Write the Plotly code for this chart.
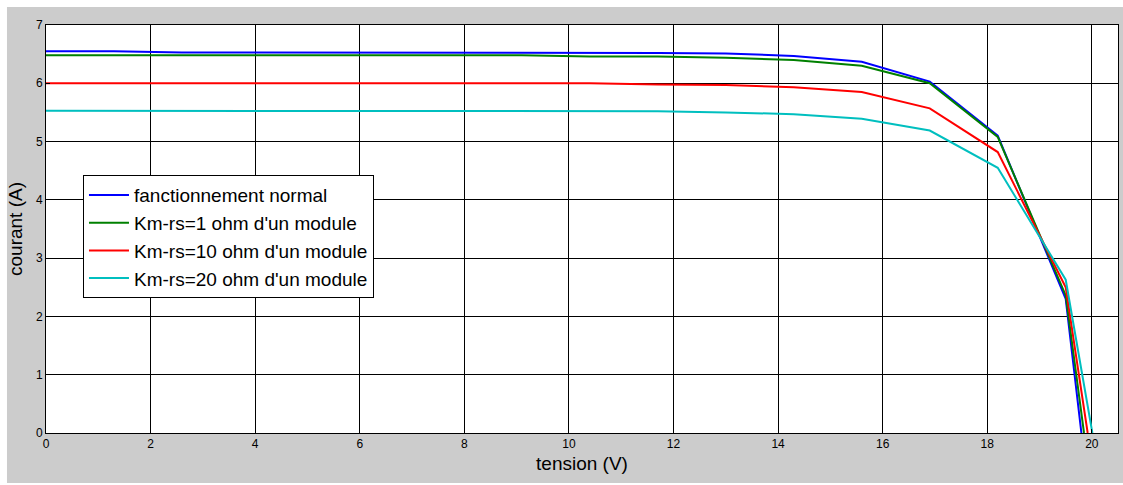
import plotly.graph_objects as go

# data
v_grid = [0, 1.3, 2.6, 3.9, 5.2, 6.5, 7.8, 9.1, 10.4, 11.7, 13.0, 14.3, 15.6, 16.9, 18.2, 19.5]

names = ["fanctionnement normal",
         "Km-rs=1 ohm d'un module",
         "Km-rs=10 ohm d'un module",
         "Km-rs=20 ohm d'un module"]

i_normal = [6.55, 6.55, 6.53, 6.53, 6.53, 6.53, 6.53, 6.53, 6.52, 6.52, 6.51, 6.47, 6.37, 6.03, 5.10, 2.30, 0.0]
i_rs1 = [6.48, 6.48, 6.48, 6.48, 6.48, 6.48, 6.48, 6.48, 6.46, 6.46, 6.44, 6.40, 6.30, 6.00, 5.08, 2.36, 0.0]
i_rs10 = [6.00, 6.00, 6.00, 6.00, 6.00, 6.00, 6.00, 6.00, 6.00, 5.98, 5.97, 5.93, 5.85, 5.57, 4.82, 2.50, 0.0]
i_rs20 = [5.53, 5.53, 5.53, 5.53, 5.53, 5.53, 5.53, 5.53, 5.53, 5.52, 5.50, 5.47, 5.39, 5.19, 4.55, 2.63, 0.0]

v_end = [19.80, 19.85, 19.92, 20.01]

colors = ["#0000FF", "#008000", "#FF0000", "#00BFBF"]

x_ticks = [0, 2, 4, 6, 8, 10, 12, 14, 16, 18, 20]
y_ticks = [0, 1, 2, 3, 4, 5, 6, 7]

fig = go.Figure()
for name, cur, ve, col in zip(names, [i_normal, i_rs1, i_rs10, i_rs20], v_end, colors):
    fig.add_trace(go.Scatter(x=v_grid + [ve], y=cur, mode="lines", name=name,
                             line=dict(color=col, width=2)))

font = "Liberation Sans, Arial, sans-serif"

fig.update_layout(
    width=1123, height=485,
    margin=dict(l=46, r=5, t=25, b=52),
    paper_bgcolor="white",
    plot_bgcolor="white",
    font=dict(family=font, color="black", size=12),
    showlegend=True,
    legend=dict(x=0.0345, y=0.632, xanchor="left", yanchor="top",
                bgcolor="white", bordercolor="black", borderwidth=1,
                font=dict(size=19, family=font, color="black"),
                tracegroupgap=0, itemwidth=40),
    shapes=[
        dict(type="rect", xref="paper", yref="paper", x0=-0.0364, x1=1.0047,
             y0=-0.1226, y1=1.0441, fillcolor="#CCCCCC", line=dict(width=0), layer="below"),
        dict(type="rect", xref="paper", yref="paper", x0=0, x1=1, y0=0, y1=1,
             fillcolor="white", line=dict(width=0), layer="below"),
    ],
)

fig.update_xaxes(range=[0, 20.5], tickvals=x_ticks, ticktext=[str(t) for t in x_ticks],
                 showgrid=True, gridcolor="black", gridwidth=1,
                 showline=True, linecolor="black", linewidth=1, mirror=True,
                 ticks="inside", ticklen=4, tickcolor="black",
                 zeroline=False, tickfont=dict(size=12),
                 title=dict(text="tension (V)", font=dict(size=19), standoff=6))
fig.update_yaxes(range=[0, 7], tickvals=y_ticks, ticktext=[str(t) for t in y_ticks],
                 showgrid=True, gridcolor="black", gridwidth=1,
                 showline=True, linecolor="black", linewidth=1, mirror=True,
                 ticks="inside", ticklen=4, tickcolor="black",
                 zeroline=False, tickfont=dict(size=12),
                 title=dict(text="courant (A)", font=dict(size=19), standoff=8))

fig.write_html("out.html")
